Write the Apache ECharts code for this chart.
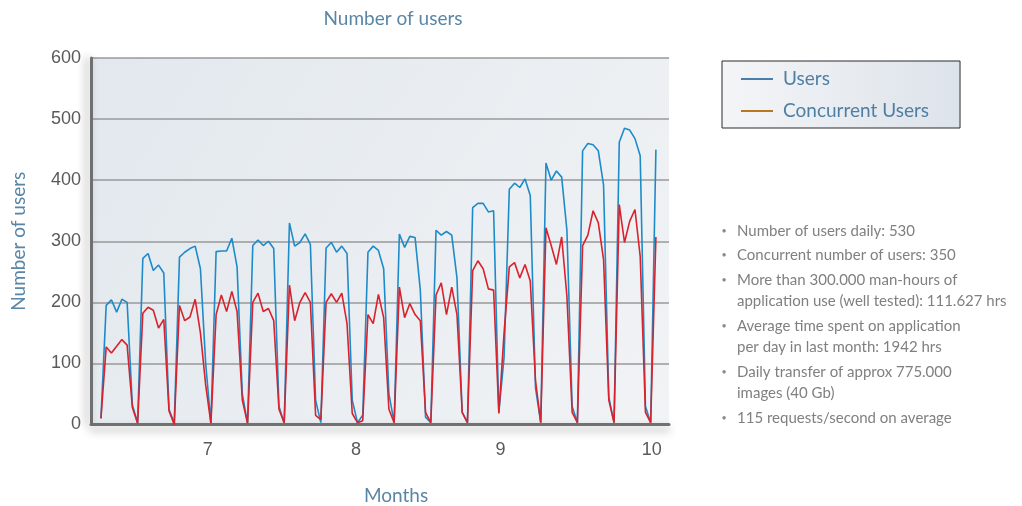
<!DOCTYPE html>
<html>
<head>
<meta charset="utf-8">
<script src="https://cdn.jsdelivr.net/npm/echarts@6/dist/echarts.min.js"></script>
<style>
html,body{margin:0;padding:0;background:#fff;}
#chart{width:1022px;height:506px;}
</style>
</head>
<body>
<div id="chart"></div>
<script>
// ---- data (one value per day) ----
const users = [
  10,
  195, 204, 184, 205, 200, 32, 3,
  272, 280, 252, 261, 248, 25, 2,
  274, 282, 288, 292, 255, 100, 2,
  283, 284, 284, 305, 258, 50, 2,
  293, 302, 293, 300, 288, 30, 2,
  330, 292, 298, 312, 295, 40, 3,
  289, 298, 282, 292, 280, 40, 3,
  15, 282, 292, 285, 255, 50, 3,
  312, 290, 308, 306, 220, 12, 3,
  318, 310, 316, 310, 240, 20, 3,
  355, 362, 362, 348, 350, 20, 110,
  385, 395, 388, 402, 375, 60, 3,
  428, 400, 415, 405, 318, 30, 3,
  448, 460, 458, 448, 392, 45, 3,
  462, 485, 482, 468, 440, 30, 3,
  450
];
const concurrentUsers = [
  10,
  127, 117, 128, 139, 130, 28, 2,
  182, 192, 187, 158, 172, 22, 0,
  195, 170, 176, 205, 150, 65, 2,
  180, 212, 185, 218, 185, 40, 2,
  200, 215, 185, 190, 170, 25, 3,
  228, 170, 200, 216, 200, 15, 8,
  200, 214, 200, 215, 165, 18, 3,
  6, 180, 165, 213, 175, 25, 3,
  225, 175, 198, 180, 170, 20, 3,
  212, 232, 180, 225, 180, 20, 3,
  252, 268, 255, 222, 220, 18, 150,
  258, 265, 240, 262, 235, 72, 3,
  322, 293, 262, 307, 210, 20, 3,
  293, 310, 350, 330, 270, 40, 3,
  360, 298, 333, 352, 275, 20, 3,
  307
];
const monthTickDays = [20.4, 48.7, 76.3, 105.2];
const monthLabels = ['7', '8', '9', '10'];
const yTicks = [0, 100, 200, 300, 400, 500, 600];
const seriesNames = ['Users', 'Concurrent Users'];
const titleText = 'Number of users';
const yAxisTitle = 'Number of users';
const xAxisTitle = 'Months';
const bulletItems = [
  ['Number of users daily: 530'],
  ['Concurrent number of users: 350'],
  ['More than 300.000 man-hours of', 'application use (well tested): 111.627 hrs'],
  ['Average time spent on application', 'per day in last month: 1942 hrs'],
  ['Daily transfer of approx 775.000', 'images (40 Gb)'],
  ['115 requests/second on average']
];

// ---- chart ----
const chart = echarts.init(document.getElementById('chart'), null, {renderer: 'canvas'});
const uiFont = 'Lato';
const steel = '#5a86a6';

const graphics = [];
graphics.push({
  type: 'text', x: 393, y: 19, z: 10,
  style: {text: titleText, align: 'center', verticalAlign: 'middle',
          font: '19px ' + uiFont, fill: steel}
});
graphics.push({
  type: 'text', x: 396, y: 496, z: 10,
  style: {text: xAxisTitle, align: 'center', verticalAlign: 'middle',
          font: '19px ' + uiFont, fill: steel}
});
let by = 231;
bulletItems.forEach(function (lines, i) {
  graphics.push({
    type: 'text', x: 724, y: by, z: 10,
    style: {text: '\u2022', align: 'center', verticalAlign: 'middle',
            font: '9px ' + uiFont, fill: '#8a8a8a'}
  });
  lines.forEach(function (ln, j) {
    graphics.push({
      type: 'text', x: 737, y: by + j * 21.5, z: 10,
      style: {text: ln, align: 'left', verticalAlign: 'middle',
              font: '15px ' + uiFont, fill: '#808080'}
    });
  });
  by += (lines.length - 1) * 21.5 + 24.5;
});

const option = {
  animation: false,
  backgroundColor: '#ffffff',
  grid: {
    left: 91, right: 353, top: 58, bottom: 81.5,
    show: true, borderWidth: 0,
    backgroundColor: new echarts.graphic.LinearGradient(0, 0, 1, 1, [
      {offset: 0, color: '#e2e8ee'},
      {offset: 1, color: '#f1f3f5'}
    ])
  },
  legend: {
    orient: 'vertical',
    left: 722, top: 61,
    padding: [7, 31, 6, 19],
    itemGap: 10,
    itemWidth: 32, itemHeight: 2,
    icon: 'rect',
    borderColor: '#2a2a2a', borderWidth: 1,
    backgroundColor: new echarts.graphic.LinearGradient(0, 0, 1, 0, [
      {offset: 0, color: '#f4f5f7'},
      {offset: 1, color: '#dde3ea'}
    ]),
    textStyle: {fontFamily: uiFont, fontSize: 19, color: '#4f7fa4', lineHeight: 22,
                padding: [0, 0, 0, 5]},
    data: [
      {name: seriesNames[0], itemStyle: {color: '#4a7ea8'}},
      {name: seriesNames[1], itemStyle: {color: '#b8781f'}}
    ]
  },
  xAxis: {
    type: 'value',
    min: -1.9, max: 108.5,
    axisLine: {show: true, onZero: false,
      lineStyle: {color: '#707070', width: 3,
        shadowColor: 'rgba(0,0,0,0.35)', shadowBlur: 8, shadowOffsetY: 5}},
    axisTick: {show: false},
    splitLine: {show: false},
    axisLabel: {
      customValues: monthTickDays,
      margin: 17,
      fontFamily: 'Liberation Sans', fontSize: 18, color: '#5a5a5a',
      formatter: function (v) {
        const k = monthTickDays.indexOf(v);
        return k >= 0 ? monthLabels[k] : '';
      }
    }
  },
  yAxis: {
    type: 'value',
    min: yTicks[0], max: yTicks[yTicks.length - 1], interval: yTicks[1] - yTicks[0],
    name: yAxisTitle,
    nameLocation: 'middle',
    nameGap: 63,
    nameTextStyle: {fontFamily: uiFont, fontSize: 19, color: steel},
    axisLine: {show: true, onZero: false,
      lineStyle: {color: '#707070', width: 3,
        shadowColor: 'rgba(0,0,0,0.35)', shadowBlur: 8, shadowOffsetX: -4}},
    axisTick: {show: false},
    axisLabel: {margin: 10, fontFamily: 'Liberation Sans', fontSize: 18, color: '#5a5a5a'},
    splitLine: {show: true, lineStyle: {color: '#999999', width: 1.5}}
  },
  series: [
    {
      name: seriesNames[0], type: 'line', showSymbol: false, symbol: 'none',
      lineStyle: {color: '#1e8bc9', width: 1.6},
      itemStyle: {color: '#1e8bc9'},
      data: users.map(function (v, i) { return [i, v]; })
    },
    {
      name: seriesNames[1], type: 'line', showSymbol: false, symbol: 'none',
      lineStyle: {color: '#d9222c', width: 1.6},
      itemStyle: {color: '#d9222c'},
      data: concurrentUsers.map(function (v, i) { return [i, v]; })
    }
  ],
  graphic: graphics
};
chart.setOption(option);
</script>
</body>
</html>
